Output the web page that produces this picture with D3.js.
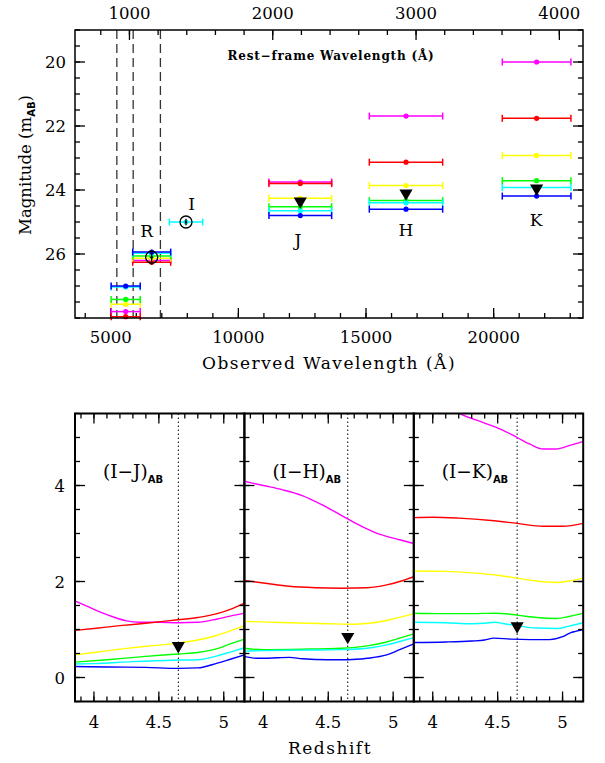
<!DOCTYPE html>
<html>
<head>
<meta charset="utf-8">
<script src="https://cdn.jsdelivr.net/npm/d3@7"></script>
<style>
  body { margin: 0; background: #fff; }
  text { font-family: "DejaVu Serif", serif; fill: #000; }
</style>
</head>
<body>
<svg width="605" height="763"></svg>
<script>
// model colours (magenta, red, yellow, green, cyan, blue)
var modelColors = ["#ff00ff", "#ff0000", "#ffff00", "#00ff00", "#00ffff", "#0000ff"];

// filters: observed centre and half width in Angstrom
var bandNames = ["", "R", "I", "J", "H", "K"];
var bandCenter = [5586, 6604, 7948, 12426, 16566, 21683];
var bandHalfWidth = [570, 744, 654, 1228, 1437, 1345];

// model magnitudes per band (null = no point)
var magMagenta = [27.80, 26.20, null, 23.75, 21.69, 20.00];
var magRed     = [27.96, 26.26, null, 23.80, 23.13, 21.76];
var magYellow  = [27.57, 26.13, null, 24.26, 23.86, 22.92];
var magGreen   = [27.42, 26.06, null, 24.52, 24.33, 23.71];
var magCyan    = [27.03, 25.98, 25.00, 24.65, 24.40, 23.92];
var magBlue    = [27.00, 25.94, null, 24.80, 24.60, 24.19];

// observed object: detections (circles) and upper limits (triangles)
var detWave = [6604, 7948];
var detMag = [26.10, 25.00];
var detErr = [0.23, 0.10];
var limWave = [12426, 16566, 21683];
var limMag = [24.35, 24.10, 23.95];

var obsTicks = [5000, 10000, 15000, 20000];
var restTicks = [1000, 2000, 3000, 4000];
var magTicks = [20, 22, 24, 26];
var lymanLines = [912, 1026, 1216];

// colour tracks vs redshift: [z, colour]
var ijMagenta = [[3.85,1.60],[3.95,1.48],[4.05,1.36],[4.15,1.26],[4.25,1.18],[4.35,1.15],[4.5,1.15],[4.65,1.14],[4.8,1.15],[4.95,1.22],[5.05,1.28],[5.16,1.34]];
var ijRed     = [[3.85,0.98],[4.0,1.02],[4.2,1.08],[4.4,1.13],[4.6,1.19],[4.8,1.25],[4.95,1.33],[5.05,1.42],[5.16,1.55]];
var ijYellow  = [[3.85,0.47],[4.0,0.52],[4.2,0.59],[4.4,0.65],[4.6,0.70],[4.8,0.78],[4.95,0.88],[5.05,0.97],[5.16,1.08]];
var ijGreen   = [[3.85,0.32],[4.1,0.37],[4.4,0.44],[4.65,0.49],[4.8,0.52],[4.95,0.60],[5.05,0.70],[5.16,0.80]];
var ijCyan    = [[3.85,0.28],[4.0,0.29],[4.3,0.33],[4.6,0.36],[4.8,0.37],[4.95,0.45],[5.05,0.53],[5.16,0.62]];
var ijBlue    = [[3.85,0.23],[4.1,0.22],[4.4,0.21],[4.65,0.19],[4.8,0.20],[4.95,0.30],[5.05,0.38],[5.16,0.47]];

var ihMagenta = [[3.85,4.09],[4.0,4.00],[4.15,3.91],[4.3,3.79],[4.45,3.60],[4.6,3.38],[4.75,3.16],[4.9,2.98],[5.05,2.87],[5.16,2.79]];
var ihRed     = [[3.85,2.02],[4.0,1.97],[4.2,1.90],[4.4,1.87],[4.6,1.86],[4.8,1.87],[4.95,1.93],[5.05,2.00],[5.16,2.10]];
var ihYellow  = [[3.85,1.17],[4.2,1.14],[4.5,1.12],[4.7,1.11],[4.85,1.14],[5.0,1.22],[5.16,1.33]];
var ihGreen   = [[3.85,0.61],[4.0,0.58],[4.3,0.59],[4.6,0.61],[4.8,0.66],[4.95,0.74],[5.05,0.82],[5.16,0.91]];
var ihCyan    = [[3.85,0.55],[4.0,0.56],[4.3,0.57],[4.6,0.58],[4.8,0.61],[4.95,0.68],[5.05,0.75],[5.16,0.83]];
var ihBlue    = [[3.85,0.44],[3.95,0.40],[4.1,0.41],[4.2,0.42],[4.3,0.39],[4.5,0.37],[4.65,0.37],[4.8,0.40],[4.95,0.47],[5.05,0.58],[5.16,0.70]];

var ikMagenta = [[3.85,6.05],[4.0,5.83],[4.1,5.67],[4.2,5.51],[4.4,5.30],[4.55,5.14],[4.65,5.00],[4.75,4.86],[4.85,4.76],[4.95,4.76],[5.05,4.83],[5.16,4.92]];
var ikRed     = [[3.85,3.33],[4.0,3.34],[4.2,3.32],[4.45,3.27],[4.65,3.21],[4.85,3.15],[5.0,3.15],[5.16,3.21]];
var ikYellow  = [[3.85,2.22],[4.1,2.21],[4.3,2.18],[4.5,2.13],[4.65,2.07],[4.8,2.01],[4.95,1.98],[5.05,2.01],[5.16,2.07]];
var ikGreen   = [[3.85,1.34],[4.1,1.33],[4.3,1.33],[4.48,1.34],[4.65,1.30],[4.8,1.25],[4.95,1.23],[5.05,1.27],[5.16,1.34]];
var ikCyan    = [[3.85,1.15],[4.1,1.14],[4.3,1.12],[4.4,1.13],[4.48,1.15],[4.55,1.12],[4.65,1.08],[4.8,1.03],[4.95,1.02],[5.05,1.07],[5.16,1.14]];
var ikBlue    = [[3.85,0.73],[4.1,0.74],[4.3,0.76],[4.4,0.78],[4.47,0.82],[4.6,0.80],[4.75,0.79],[4.9,0.79],[5.0,0.85],[5.06,0.93],[5.1,0.96],[5.16,1.00]];

var zSource = 4.65;
var colourLimit = [0.66, 0.85, 1.07];
var panelNames = ["I\u2212J", "I\u2212H", "I\u2212K"];
var zTicks = [4, 4.5, 5];
var colourTicks = [0, 2, 4];

var svg = d3.select("svg");

function xTicks(g, scale, values, y, dir, len) {
  g.selectAll(null).data(values).enter().append("line")
    .attr("x1", function(d) { return scale(d); })
    .attr("x2", function(d) { return scale(d); })
    .attr("y1", y).attr("y2", y + dir * len)
    .attr("stroke", "#000").attr("stroke-width", 1.3);
}
function yTicks(g, scale, values, x, dir, len) {
  g.selectAll(null).data(values).enter().append("line")
    .attr("y1", function(d) { return scale(d); })
    .attr("y2", function(d) { return scale(d); })
    .attr("x1", x).attr("x2", x + dir * len)
    .attr("stroke", "#000").attr("stroke-width", 1.3);
}
function range(a, b, s) {
  var out = [];
  for (var v = a; v <= b + 1e-9; v += s) out.push(Math.round(v * 1000) / 1000);
  return out;
}

// ---------------- top panel: magnitudes vs wavelength ----------------
var tx0 = 75, tx1 = 583, ty0 = 30, ty1 = 318;
var xObs = d3.scaleLinear().domain([3600, 23500]).range([tx0, tx1]);
var xRest = d3.scaleLinear().domain([620, 4165]).range([tx0, tx1]);
var yMag = d3.scaleLinear().domain([19, 28]).range([ty0, ty1]);

var topG = svg.append("g");

topG.selectAll(".lyman").data(lymanLines).enter().append("line")
  .attr("x1", function(d) { return xRest(d); })
  .attr("x2", function(d) { return xRest(d); })
  .attr("y1", ty0).attr("y2", ty1)
  .attr("stroke", "#333").attr("stroke-width", 1.3)
  .attr("stroke-dasharray", "9,5");

xTicks(topG, xObs, range(4000, 23000, 1000), ty1, -1, 5);
xTicks(topG, xObs, obsTicks, ty1, -1, 10);
xTicks(topG, xRest, range(800, 4000, 200), ty0, 1, 5);
xTicks(topG, xRest, restTicks, ty0, 1, 10);
yTicks(topG, yMag, range(19, 28, 0.5), tx0, 1, 5);
yTicks(topG, yMag, magTicks, tx0, 1, 10);
yTicks(topG, yMag, range(19, 28, 0.5), tx1, -1, 5);
yTicks(topG, yMag, magTicks, tx1, -1, 10);

var models = [magMagenta, magRed, magYellow, magGreen, magCyan, magBlue];
models.forEach(function(mags, m) {
  var pts = [];
  mags.forEach(function(v, i) { if (v !== null) pts.push({ w: bandCenter[i], hw: bandHalfWidth[i], m: v }); });
  var gm = topG.append("g").attr("stroke", modelColors[m]).attr("fill", modelColors[m]);
  gm.selectAll(".bar").data(pts).enter().append("line")
    .attr("x1", function(d) { return xObs(d.w - d.hw); })
    .attr("x2", function(d) { return xObs(d.w + d.hw); })
    .attr("y1", function(d) { return yMag(d.m); })
    .attr("y2", function(d) { return yMag(d.m); })
    .attr("stroke-width", 1.5);
  [-1, 1].forEach(function(s) {
    gm.selectAll(null).data(pts).enter().append("line")
      .attr("x1", function(d) { return xObs(d.w + s * d.hw); })
      .attr("x2", function(d) { return xObs(d.w + s * d.hw); })
      .attr("y1", function(d) { return yMag(d.m) - 3.5; })
      .attr("y2", function(d) { return yMag(d.m) + 3.5; })
      .attr("stroke-width", 1.5);
  });
  gm.selectAll("circle").data(pts).enter().append("circle")
    .attr("cx", function(d) { return xObs(d.w); })
    .attr("cy", function(d) { return yMag(d.m); })
    .attr("r", 2.6).attr("stroke", "none");
});

// detections
detWave.forEach(function(w, i) {
  topG.append("line")
    .attr("x1", xObs(w)).attr("x2", xObs(w))
    .attr("y1", yMag(detMag[i] - detErr[i])).attr("y2", yMag(detMag[i] + detErr[i]))
    .attr("stroke", "#000").attr("stroke-width", 1.3);
  topG.append("circle").attr("cx", xObs(w)).attr("cy", yMag(detMag[i]))
    .attr("r", 6).attr("fill", "none").attr("stroke", "#000").attr("stroke-width", 1.3);
  topG.append("circle").attr("cx", xObs(w)).attr("cy", yMag(detMag[i]))
    .attr("r", 1.3).attr("fill", "#000");
});

var tri = d3.symbol().type(d3.symbolTriangle).size(75);
topG.selectAll(".lim").data(limWave).enter().append("path")
  .attr("d", tri)
  .attr("transform", function(d, i) { return "translate(" + xObs(d) + "," + yMag(limMag[i]) + ") rotate(180)"; })
  .attr("fill", "#000");

// band labels
var bandLabelPos = [null, [146.7, 237], [191.7, 210], [298, 246], [406, 236], [536, 226]];
bandNames.forEach(function(n, i) {
  if (!n) return;
  topG.append("text").attr("x", bandLabelPos[i][0]).attr("y", bandLabelPos[i][1])
    .attr("text-anchor", "middle").attr("font-size", 17).text(n);
});

topG.append("rect").attr("x", tx0).attr("y", ty0)
  .attr("width", tx1 - tx0).attr("height", ty1 - ty0)
  .attr("fill", "none").attr("stroke", "#000").attr("stroke-width", 1.5);

topG.selectAll(".olab").data(obsTicks).enter().append("text")
  .attr("x", function(d) { return xObs(d); }).attr("y", 343)
  .attr("text-anchor", "middle").attr("font-size", 16.5).text(function(d) { return d; });
topG.selectAll(".rlab").data(restTicks).enter().append("text")
  .attr("x", function(d) { return xRest(d); }).attr("y", 19)
  .attr("text-anchor", "middle").attr("font-size", 16.5).text(function(d) { return d; });
topG.selectAll(".mlab").data(magTicks).enter().append("text")
  .attr("x", 66).attr("y", function(d) { return yMag(d) + 6; })
  .attr("text-anchor", "end").attr("font-size", 16.5).text(function(d) { return d; });

topG.append("text").attr("x", 329).attr("y", 369).attr("text-anchor", "middle")
  .attr("font-size", 17).attr("letter-spacing", 1.5).text("Observed Wavelength (\u00c5)");
topG.append("text").attr("x", 331).attr("y", 60).attr("text-anchor", "middle")
  .attr("font-size", 12).attr("font-weight", "bold").attr("letter-spacing", 0.8)
  .text("Rest\u2212frame Wavelength (\u00c5)");

var ylab = topG.append("text").attr("transform", "translate(31,165) rotate(-90)")
  .attr("text-anchor", "middle").attr("font-size", 16.5);
ylab.append("tspan").text("Magnitude (m");
ylab.append("tspan").attr("font-size", 10).attr("font-family", "DejaVu Sans").attr("font-weight", "bold").attr("dy", 4).text("AB");
ylab.append("tspan").attr("dy", -4).text(")");

// ---------------- bottom panels: colours vs redshift ----------------
var by0 = 413.5, by1 = 701.5, pw = 169.4;
var panelX = [75, 75 + pw, 75 + 2 * pw];
var yCol = d3.scaleLinear().domain([-0.5, 5.5]).range([by1, by0]);
var tracks = [
  [ijMagenta, ijRed, ijYellow, ijGreen, ijCyan, ijBlue],
  [ihMagenta, ihRed, ihYellow, ihGreen, ihCyan, ihBlue],
  [ikMagenta, ikRed, ikYellow, ikGreen, ikCyan, ikBlue]
];

panelX.forEach(function(px, p) {
  var xz = d3.scaleLinear().domain([3.854, 5.159]).range([px, px + pw]);
  var g = svg.append("g");

  g.append("clipPath").attr("id", "clip" + p).append("rect")
    .attr("x", px).attr("y", by0).attr("width", pw).attr("height", by1 - by0);

  g.append("line").attr("x1", xz(zSource)).attr("x2", xz(zSource))
    .attr("y1", by0).attr("y2", by1)
    .attr("stroke", "#000").attr("stroke-width", 1).attr("stroke-dasharray", "1.5,2.5");

  var line = d3.line().curve(d3.curveMonotoneX)
    .x(function(d) { return xz(d[0]); })
    .y(function(d) { return yCol(d[1]); });

  g.append("g").attr("clip-path", "url(#clip" + p + ")")
    .selectAll("path").data(tracks[p]).enter().append("path")
    .attr("d", line).attr("fill", "none")
    .attr("stroke", function(d, i) { return modelColors[i]; })
    .attr("stroke-width", 1.4);

  g.append("path").attr("d", tri)
    .attr("transform", "translate(" + xz(zSource) + "," + yCol(colourLimit[p]) + ") rotate(180)")
    .attr("fill", "#000");

  xTicks(g, xz, range(3.9, 5.1, 0.1), by1, -1, 5);
  xTicks(g, xz, zTicks, by1, -1, 10);
  xTicks(g, xz, range(3.9, 5.1, 0.1), by0, 1, 5);
  xTicks(g, xz, zTicks, by0, 1, 10);
  yTicks(g, yCol, range(-0.5, 5.5, 0.5), px, 1, 5);
  yTicks(g, yCol, colourTicks, px, 1, 10);
  yTicks(g, yCol, range(-0.5, 5.5, 0.5), px + pw, -1, 5);
  yTicks(g, yCol, colourTicks, px + pw, -1, 10);

  g.append("rect").attr("x", px).attr("y", by0).attr("width", pw).attr("height", by1 - by0)
    .attr("fill", "none").attr("stroke", "#000").attr("stroke-width", 2);

  g.selectAll(".zlab").data(zTicks).enter().append("text")
    .attr("x", function(d) { return xz(d); }).attr("y", 728)
    .attr("text-anchor", "middle").attr("font-size", 16.5).text(function(d) { return d; });

  var lab = g.append("text").attr("x", px + 28).attr("y", 478).attr("font-size", 18.5);
  lab.append("tspan").text("(" + panelNames[p] + ")");
  lab.append("tspan").attr("font-size", 10).attr("font-family", "DejaVu Sans").attr("font-weight", "bold").attr("dy", 5).text("AB");
});

svg.selectAll(".clab").data(colourTicks).enter().append("text")
  .attr("x", 65).attr("y", function(d) { return yCol(d) + 6; })
  .attr("text-anchor", "end").attr("font-size", 16.5).text(function(d) { return d; });

svg.append("text").attr("x", 330).attr("y", 754).attr("text-anchor", "middle")
  .attr("font-size", 17).attr("letter-spacing", 1.5).text("Redshift");
</script>
</body>
</html>
